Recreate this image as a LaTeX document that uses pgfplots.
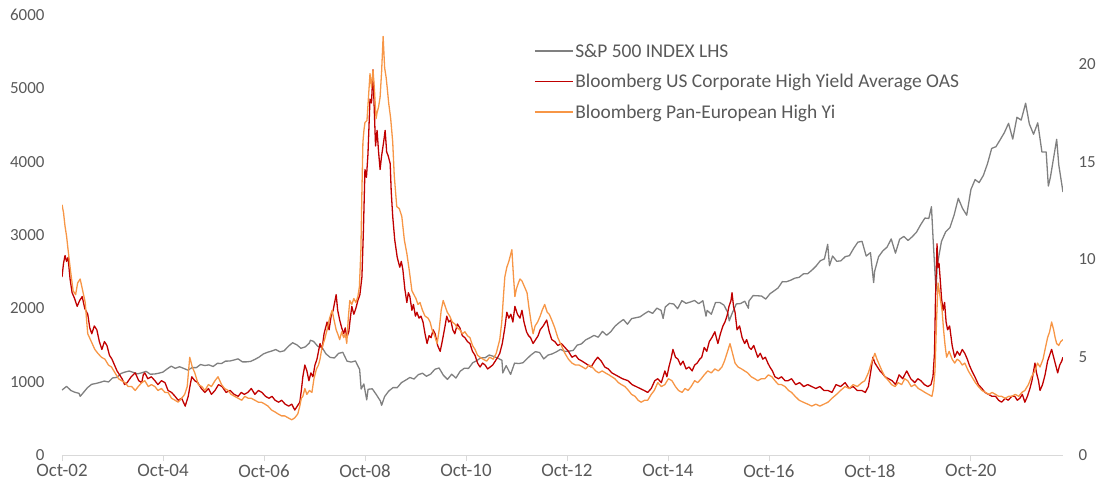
\documentclass[border=0pt]{standalone}
\usepackage{pgfplots}
\pgfplotsset{compat=1.18}
\usepackage{pgfplotstable}
\usepackage{fontspec}
\setmainfont{Carlito}

\definecolor{spxgrey}{HTML}{808080}
\definecolor{hyred}{HTML}{C00000}
\definecolor{euorange}{HTML}{F79646}
\definecolor{txt}{HTML}{595959}
\definecolor{axisgrey}{HTML}{D9D9D9}

% S&P 500 index level (left axis), month-ends plus main turning points
\pgfplotstableread{
date value
2002.750 886
2002.842 936
2002.925 880
2003.003 856
2003.087 841
2003.110 800
2003.170 848
2003.253 917
2003.337 964
2003.420 975
2003.503 990
2003.587 1008
2003.670 996
2003.753 1051
2003.837 1058
2003.920 1112
2003.998 1131
2004.082 1145
2004.165 1126
2004.248 1107
2004.332 1121
2004.415 1141
2004.498 1102
2004.582 1104
2004.665 1115
2004.748 1130
2004.832 1174
2004.915 1212
2004.993 1181
2005.077 1204
2005.160 1181
2005.243 1157
2005.327 1192
2005.410 1191
2005.493 1234
2005.577 1220
2005.660 1229
2005.743 1207
2005.827 1250
2005.910 1248
2005.988 1280
2006.072 1281
2006.155 1295
2006.238 1311
2006.322 1270
2006.405 1270
2006.488 1277
2006.572 1304
2006.655 1336
2006.738 1378
2006.822 1401
2006.905 1418
2006.983 1438
2007.067 1407
2007.150 1421
2007.233 1482
2007.317 1531
2007.400 1503
2007.483 1455
2007.567 1474
2007.650 1527
2007.670 1565
2007.733 1549
2007.817 1481
2007.900 1468
2007.978 1379
2008.062 1331
2008.145 1323
2008.228 1386
2008.312 1400
2008.395 1280
2008.478 1267
2008.562 1283
2008.645 1166
2008.675 899
2008.728 969
2008.785 752
2008.812 896
2008.895 903
2008.973 826
2009.057 735
2009.080 677
2009.140 798
2009.223 873
2009.307 919
2009.390 919
2009.473 987
2009.557 1021
2009.640 1057
2009.723 1036
2009.807 1096
2009.890 1115
2009.968 1074
2010.052 1104
2010.135 1169
2010.218 1187
2010.302 1089
2010.385 1031
2010.468 1102
2010.552 1049
2010.635 1141
2010.718 1183
2010.802 1181
2010.885 1258
2010.963 1286
2011.047 1327
2011.130 1326
2011.213 1364
2011.297 1345
2011.380 1321
2011.463 1292
2011.480 1119
2011.547 1219
2011.635 1099
2011.713 1253
2011.797 1247
2011.880 1258
2011.958 1312
2012.042 1366
2012.125 1409
2012.208 1398
2012.292 1310
2012.375 1362
2012.458 1379
2012.542 1407
2012.625 1441
2012.708 1412
2012.792 1416
2012.875 1426
2012.953 1498
2013.037 1515
2013.120 1569
2013.203 1598
2013.287 1631
2013.370 1606
2013.453 1686
2013.537 1633
2013.620 1682
2013.703 1757
2013.787 1806
2013.870 1848
2013.948 1783
2014.032 1860
2014.115 1872
2014.198 1884
2014.282 1924
2014.365 1960
2014.448 1931
2014.532 2003
2014.615 1972
2014.655 1862
2014.698 2018
2014.782 2068
2014.865 2059
2014.943 1995
2015.027 2105
2015.110 2068
2015.193 2086
2015.277 2107
2015.360 2063
2015.443 2104
2015.505 1893
2015.527 1972
2015.610 1920
2015.693 2079
2015.777 2080
2015.860 2044
2015.938 1940
2015.965 1829
2016.022 1932
2016.105 2060
2016.188 2065
2016.272 2097
2016.345 2001
2016.355 2099
2016.438 2174
2016.522 2171
2016.605 2168
2016.688 2126
2016.772 2199
2016.855 2239
2016.933 2279
2017.017 2364
2017.100 2363
2017.183 2384
2017.267 2412
2017.350 2423
2017.433 2470
2017.517 2472
2017.600 2519
2017.683 2575
2017.767 2648
2017.850 2674
2017.915 2873
2017.950 2581
2018.012 2714
2018.095 2641
2018.178 2648
2018.262 2705
2018.345 2718
2018.428 2816
2018.512 2902
2018.595 2914
2018.678 2712
2018.762 2760
2018.825 2351
2018.845 2507
2018.923 2704
2019.007 2784
2019.090 2834
2019.173 2946
2019.257 2752
2019.340 2942
2019.423 2980
2019.507 2926
2019.590 2977
2019.673 3038
2019.757 3141
2019.840 3231
2019.918 3226
2019.970 3386
2020.002 2954
2020.060 2237
2020.085 2585
2020.168 2912
2020.252 3044
2020.335 3100
2020.418 3271
2020.502 3500
2020.585 3363
2020.668 3270
2020.752 3622
2020.835 3756
2020.913 3714
2020.997 3811
2021.080 3973
2021.163 4181
2021.247 4204
2021.330 4298
2021.413 4395
2021.497 4523
2021.580 4308
2021.663 4605
2021.747 4567
2021.835 4797
2021.908 4516
2021.992 4374
2022.075 4530
2022.158 4132
2022.242 4132
2022.285 3667
2022.325 3785
2022.408 4130
2022.450 4305
2022.492 3955
2022.575 3586
}\spx

% US HY OAS (right axis)
\pgfplotstableread{
date value
2002.75 9.1
2002.78 9.8
2002.81 10.2
2002.84 9.9
2002.87 10.1
2002.91 9.0
2002.95 8.3
2003.00 8.0
2003.05 7.6
2003.10 7.9
2003.15 8.1
2003.20 7.5
2003.26 7.2
2003.30 6.5
2003.34 6.2
2003.39 6.6
2003.44 6.4
2003.49 5.8
2003.54 5.4
2003.59 5.8
2003.64 5.6
2003.69 5.1
2003.74 4.9
2003.79 4.6
2003.84 4.3
2003.89 4.1
2003.94 3.9
2003.99 3.6
2004.04 3.7
2004.12 4.0
2004.20 4.2
2004.27 3.8
2004.33 3.7
2004.36 4.1
2004.39 4.2
2004.45 3.9
2004.52 4.0
2004.59 3.8
2004.65 3.6
2004.72 3.8
2004.79 3.7
2004.85 3.3
2004.92 3.2
2004.99 3.0
2005.05 2.8
2005.12 2.9
2005.19 2.5
2005.25 3.0
2005.29 3.6
2005.32 4.0
2005.38 3.8
2005.44 3.7
2005.51 3.4
2005.58 3.2
2005.65 3.4
2005.71 3.1
2005.78 3.3
2005.85 3.6
2005.92 3.5
2006.00 3.2
2006.08 3.3
2006.16 3.1
2006.24 3.0
2006.30 3.2
2006.36 3.1
2006.43 3.2
2006.50 3.4
2006.57 3.1
2006.64 3.3
2006.71 3.2
2006.78 3.0
2006.85 2.9
2006.91 3.0
2006.97 2.8
2007.04 2.7
2007.10 2.8
2007.17 2.6
2007.24 2.5
2007.30 2.6
2007.36 2.3
2007.41 2.5
2007.46 2.7
2007.49 3.3
2007.52 4.0
2007.56 4.6
2007.60 4.3
2007.64 3.8
2007.68 4.2
2007.72 4.0
2007.76 4.6
2007.80 4.9
2007.86 5.7
2007.90 5.4
2007.94 6.2
2008.00 6.8
2008.04 6.4
2008.08 7.1
2008.12 7.4
2008.15 7.8
2008.18 8.2
2008.21 7.4
2008.25 6.9
2008.29 6.5
2008.33 6.2
2008.36 6.5
2008.39 6.0
2008.43 6.3
2008.46 7.0
2008.49 7.6
2008.53 7.2
2008.57 7.5
2008.61 7.9
2008.65 8.2
2008.69 9.1
2008.72 11.5
2008.75 14.6
2008.78 14.2
2008.81 15.4
2008.83 16.8
2008.85 18.2
2008.88 18.0
2008.91 19.7
2008.93 18.0
2008.96 15.8
2008.99 16.6
2009.02 15.5
2009.05 14.6
2009.08 15.3
2009.12 16.0
2009.15 16.6
2009.18 15.5
2009.21 15.3
2009.25 14.9
2009.27 13.5
2009.30 12.2
2009.34 11.0
2009.39 10.1
2009.44 9.6
2009.47 9.9
2009.50 9.5
2009.54 8.5
2009.58 7.8
2009.61 8.3
2009.64 8.1
2009.68 7.4
2009.71 7.7
2009.75 7.1
2009.78 7.3
2009.82 7.0
2009.86 7.1
2009.90 6.8
2009.94 6.2
2009.98 5.7
2010.02 6.1
2010.06 6.0
2010.10 6.4
2010.14 6.2
2010.19 5.6
2010.24 5.3
2010.28 5.8
2010.33 6.5
2010.37 7.1
2010.41 6.8
2010.45 6.9
2010.49 6.4
2010.53 6.2
2010.58 6.7
2010.63 6.5
2010.68 6.1
2010.73 6.0
2010.78 5.8
2010.83 5.7
2010.88 5.3
2010.93 5.1
2010.98 4.7
2011.03 4.5
2011.08 4.7
2011.13 4.6
2011.18 4.4
2011.23 4.5
2011.28 4.6
2011.33 4.8
2011.38 5.0
2011.42 5.2
2011.47 5.7
2011.52 6.5
2011.56 7.3
2011.60 7.0
2011.64 7.2
2011.68 6.8
2011.72 7.6
2011.77 7.2
2011.82 7.0
2011.86 7.4
2011.90 6.8
2011.95 6.3
2011.99 6.1
2012.03 6.0
2012.08 5.7
2012.13 5.9
2012.18 6.1
2012.22 6.4
2012.28 6.6
2012.35 6.9
2012.40 6.3
2012.45 5.9
2012.51 5.8
2012.57 5.6
2012.64 5.7
2012.71 5.5
2012.78 5.3
2012.85 5.0
2012.92 5.1
2012.98 4.9
2013.05 4.8
2013.11 4.7
2013.17 4.6
2013.23 4.5
2013.30 4.8
2013.36 5.0
2013.43 4.8
2013.50 4.5
2013.57 4.4
2013.64 4.2
2013.71 4.1
2013.78 4.0
2013.85 3.9
2013.96 3.8
2014.04 3.6
2014.12 3.5
2014.20 3.4
2014.28 3.3
2014.35 3.2
2014.42 3.4
2014.49 3.8
2014.55 3.9
2014.62 3.7
2014.69 4.3
2014.73 4.0
2014.77 4.5
2014.81 4.9
2014.85 5.4
2014.90 5.0
2014.95 4.9
2015.00 4.6
2015.05 4.8
2015.11 4.4
2015.17 4.5
2015.23 4.3
2015.28 4.6
2015.33 4.7
2015.38 4.9
2015.42 5.0
2015.47 5.5
2015.52 5.3
2015.57 5.8
2015.62 6.0
2015.68 6.3
2015.74 5.7
2015.79 6.2
2015.84 6.6
2015.88 6.8
2015.92 7.1
2015.96 7.6
2016.00 7.9
2016.02 8.3
2016.05 7.6
2016.08 7.3
2016.12 6.4
2016.17 6.6
2016.22 6.0
2016.27 5.7
2016.31 5.9
2016.36 5.5
2016.40 5.4
2016.45 5.6
2016.49 5.3
2016.53 5.0
2016.58 5.2
2016.63 4.9
2016.68 5.0
2016.73 4.7
2016.77 4.5
2016.82 4.3
2016.87 4.0
2016.94 3.9
2017.00 4.0
2017.07 3.8
2017.13 3.8
2017.20 3.9
2017.28 3.6
2017.36 3.7
2017.44 3.5
2017.52 3.6
2017.60 3.5
2017.68 3.4
2017.76 3.5
2017.84 3.3
2017.92 3.3
2018.00 3.2
2018.08 3.6
2018.17 3.5
2018.26 3.7
2018.34 3.4
2018.42 3.5
2018.50 3.3
2018.59 3.3
2018.66 3.2
2018.72 3.5
2018.77 4.3
2018.81 5.0
2018.85 4.7
2018.90 4.5
2018.95 4.3
2018.99 4.2
2019.05 4.0
2019.12 3.9
2019.19 3.8
2019.26 3.6
2019.33 4.1
2019.40 3.9
2019.48 4.3
2019.56 3.9
2019.64 3.7
2019.70 3.9
2019.76 3.8
2019.83 3.6
2019.90 3.5
2019.96 3.6
2020.00 4.0
2020.03 5.2
2020.05 8.0
2020.08 10.8
2020.10 9.6
2020.12 9.8
2020.14 9.1
2020.17 8.0
2020.20 7.4
2020.23 7.8
2020.26 6.8
2020.29 6.4
2020.33 6.6
2020.38 5.6
2020.43 5.0
2020.48 5.3
2020.53 5.1
2020.58 5.4
2020.63 5.2
2020.68 4.9
2020.72 4.6
2020.77 4.3
2020.83 4.0
2020.90 3.6
2020.97 3.4
2021.03 3.2
2021.10 3.1
2021.17 3.0
2021.24 3.0
2021.30 2.8
2021.36 2.7
2021.43 2.9
2021.49 2.8
2021.56 3.0
2021.62 3.0
2021.67 2.8
2021.72 2.9
2021.77 3.1
2021.82 2.7
2021.87 3.0
2021.92 3.4
2021.96 3.8
2022.02 4.7
2022.05 4.2
2022.09 3.8
2022.12 3.3
2022.17 3.6
2022.22 4.1
2022.27 4.8
2022.31 5.1
2022.35 5.4
2022.39 5.0
2022.43 4.6
2022.47 4.2
2022.51 4.6
2022.55 4.8
2022.575 5.0
}\ushy

% Pan-European HY (right axis)
\pgfplotstableread{
date value
2002.75 12.8
2002.78 12.4
2002.81 11.7
2002.84 11.2
2002.87 10.5
2002.92 9.4
2002.97 8.4
2003.02 8.2
2003.06 8.8
2003.11 9.0
2003.16 8.4
2003.21 7.8
2003.24 6.8
2003.26 6.2
2003.33 5.8
2003.40 5.4
2003.46 5.2
2003.53 5.0
2003.60 4.9
2003.67 4.6
2003.73 4.5
2003.80 4.2
2003.87 3.9
2003.93 3.8
2004.00 3.7
2004.06 3.5
2004.13 3.5
2004.20 3.3
2004.26 3.5
2004.33 3.7
2004.39 3.8
2004.46 3.5
2004.52 3.6
2004.59 3.5
2004.65 3.3
2004.72 3.4
2004.79 3.2
2004.85 3.2
2004.92 2.9
2004.99 2.8
2005.05 2.7
2005.12 2.9
2005.18 3.1
2005.23 3.5
2005.26 4.4
2005.28 5.0
2005.33 4.5
2005.38 4.2
2005.45 3.6
2005.52 3.5
2005.58 3.3
2005.65 3.6
2005.71 3.5
2005.78 3.8
2005.84 4.0
2005.91 3.6
2005.97 3.4
2006.04 3.3
2006.10 3.1
2006.17 3.0
2006.24 2.9
2006.31 2.8
2006.37 3.0
2006.44 2.9
2006.50 2.9
2006.57 2.8
2006.64 2.7
2006.70 2.7
2006.77 2.6
2006.83 2.5
2006.90 2.3
2006.97 2.2
2007.03 2.1
2007.10 2.0
2007.16 2.0
2007.23 1.9
2007.30 1.8
2007.36 1.9
2007.42 2.1
2007.46 2.5
2007.49 2.9
2007.52 3.0
2007.56 3.4
2007.60 3.1
2007.65 3.3
2007.70 3.2
2007.74 3.9
2007.79 4.4
2007.83 4.6
2007.86 4.9
2007.90 5.5
2007.95 5.9
2008.00 6.4
2008.05 7.0
2008.10 7.4
2008.13 7.0
2008.18 6.4
2008.21 6.2
2008.25 5.9
2008.29 6.3
2008.33 6.0
2008.36 6.2
2008.39 5.7
2008.42 7.0
2008.45 7.9
2008.49 7.7
2008.53 8.0
2008.57 7.8
2008.61 8.1
2008.64 8.6
2008.67 10.5
2008.69 13.5
2008.71 16.0
2008.73 16.6
2008.75 17.0
2008.79 17.1
2008.82 18.3
2008.85 19.5
2008.88 18.8
2008.91 19.7
2008.94 18.6
2008.97 17.2
2008.99 17.5
2009.02 17.8
2009.05 18.3
2009.08 19.6
2009.11 21.4
2009.14 19.8
2009.17 19.3
2009.19 18.8
2009.22 18.0
2009.26 17.2
2009.30 16.0
2009.33 14.3
2009.38 12.7
2009.43 12.6
2009.48 12.2
2009.53 11.0
2009.58 10.3
2009.63 9.4
2009.68 8.4
2009.72 8.2
2009.76 8.0
2009.80 7.7
2009.84 7.8
2009.89 7.4
2009.94 7.1
2010.00 7.0
2010.04 6.8
2010.08 6.4
2010.13 6.1
2010.18 5.7
2010.22 6.4
2010.26 7.4
2010.30 7.9
2010.34 7.6
2010.38 7.3
2010.43 7.1
2010.48 6.8
2010.53 6.7
2010.58 6.5
2010.63 6.4
2010.68 6.2
2010.73 6.3
2010.78 6.1
2010.83 6.0
2010.88 5.6
2010.93 5.4
2010.98 5.1
2011.03 5.0
2011.09 4.9
2011.16 4.8
2011.22 5.0
2011.29 4.9
2011.35 5.2
2011.42 5.9
2011.46 6.8
2011.49 8.0
2011.52 9.1
2011.56 9.6
2011.60 9.9
2011.63 10.2
2011.66 10.5
2011.69 9.2
2011.72 8.1
2011.75 8.5
2011.79 8.8
2011.82 9.0
2011.86 8.9
2011.91 8.6
2011.96 8.3
2012.00 7.5
2012.04 6.8
2012.08 6.2
2012.12 6.6
2012.17 6.8
2012.22 7.1
2012.26 7.4
2012.31 7.7
2012.36 7.3
2012.40 7.2
2012.45 6.9
2012.51 6.5
2012.57 6.0
2012.64 5.6
2012.71 5.2
2012.78 4.9
2012.85 4.7
2012.92 4.6
2012.99 4.6
2013.06 4.5
2013.12 4.4
2013.19 4.6
2013.25 4.5
2013.32 4.3
2013.38 4.2
2013.45 4.3
2013.51 4.2
2013.58 4.1
2013.64 4.0
2013.70 3.9
2013.77 3.7
2013.83 3.6
2013.90 3.5
2013.97 3.3
2014.03 3.1
2014.10 3.0
2014.16 2.8
2014.22 2.7
2014.29 2.8
2014.35 2.8
2014.42 3.1
2014.48 3.3
2014.55 3.7
2014.62 3.5
2014.69 3.6
2014.76 3.9
2014.83 3.8
2014.90 3.5
2014.96 3.3
2015.03 3.2
2015.09 3.4
2015.15 3.3
2015.21 3.5
2015.28 3.8
2015.34 3.7
2015.41 3.9
2015.47 4.1
2015.54 4.3
2015.61 4.2
2015.68 4.4
2015.75 4.3
2015.82 4.5
2015.87 4.8
2015.92 5.2
2015.98 5.7
2016.03 5.2
2016.08 4.7
2016.14 4.5
2016.21 4.4
2016.27 4.3
2016.33 4.2
2016.40 4.0
2016.47 3.9
2016.53 3.8
2016.60 3.9
2016.67 3.9
2016.74 4.1
2016.81 4.0
2016.87 3.8
2016.94 3.6
2017.00 3.6
2017.07 3.5
2017.14 3.3
2017.20 3.2
2017.27 3.0
2017.35 2.8
2017.43 2.7
2017.52 2.6
2017.60 2.5
2017.68 2.6
2017.76 2.5
2017.84 2.6
2017.92 2.7
2018.00 2.9
2018.09 3.1
2018.17 3.3
2018.26 3.5
2018.34 3.4
2018.42 3.6
2018.50 3.5
2018.59 3.7
2018.65 3.8
2018.72 4.2
2018.78 4.7
2018.85 5.2
2018.89 4.9
2018.94 4.6
2018.99 4.3
2019.05 4.0
2019.12 3.8
2019.18 3.6
2019.25 3.5
2019.31 3.7
2019.38 3.6
2019.44 3.9
2019.50 3.8
2019.57 3.5
2019.64 3.6
2019.71 3.4
2019.78 3.3
2019.84 3.2
2019.91 3.1
2019.98 3.0
2020.01 3.4
2020.04 4.3
2020.07 6.8
2020.10 8.8
2020.13 8.3
2020.15 7.9
2020.18 7.4
2020.21 6.4
2020.24 5.6
2020.27 5.0
2020.32 5.3
2020.38 4.9
2020.43 4.7
2020.48 4.9
2020.53 4.8
2020.58 4.6
2020.63 4.7
2020.70 4.3
2020.77 4.0
2020.84 3.7
2020.90 3.5
2020.97 3.3
2021.04 3.2
2021.11 3.1
2021.17 3.2
2021.24 3.1
2021.30 3.0
2021.36 3.0
2021.43 2.9
2021.50 3.0
2021.56 3.0
2021.63 3.1
2021.70 3.0
2021.76 3.2
2021.82 3.3
2021.89 3.6
2021.95 4.0
2022.02 4.3
2022.07 4.7
2022.12 4.5
2022.18 4.9
2022.22 5.4
2022.27 6.0
2022.31 6.3
2022.35 6.8
2022.39 6.4
2022.42 6.0
2022.45 5.7
2022.49 5.6
2022.53 5.8
2022.575 5.9
}\euhy

\pgfplotsset{
  common/.style={
    scale only axis, width=1001bp, height=440bp,
    xmin=2002.75, xmax=2022.575,
    tick label style={font=\fontsize{17}{20}\selectfont, text=txt},
    /pgf/number format/assume math mode=true,
    /pgf/number format/1000 sep={},
    every axis plot/.append style={line width=1.3bp, line join=round, mark=none},
  },
}

\begin{document}
\begin{tikzpicture}
\begin{axis}[
  common,
  ymin=0, ymax=6000,
  ytick={0,1000,...,6000},
  axis x line*=bottom, axis y line*=left,
  x axis line style={draw=axisgrey, line width=0.8bp, -},
  y axis line style={draw=none},
  ytick style={draw=none},
  xtick style={draw=axisgrey, line width=0.8bp},
  tick align=outside, major tick length=6bp,
  xtick={2002.75,2004.75,...,2020.75},
  xticklabels={Oct-02,Oct-04,Oct-06,Oct-08,Oct-10,Oct-12,Oct-14,Oct-16,Oct-18,Oct-20},
  xticklabel style={font=\fontsize{19}{22}\selectfont},
  yticklabel style={xshift=-8bp},
]
\addplot[color=spxgrey] table[x=date, y=value] {\spx};
\end{axis}
\begin{axis}[
  common,
  ymin=0, ymax=22.5,
  ytick={0,5,...,20},
  axis x line=none, axis y line*=right,
  y axis line style={draw=none},
  ytick style={draw=none},
  yticklabel style={xshift=12bp},
  legend style={at={(0.4685,0.943)}, anchor=north west, draw=none, fill=none,
    font=\fontsize{19.5}{22}\selectfont, text=txt, row sep=12.5bp,
    nodes={inner sep=1.5bp}},
  legend cell align=left,
  legend image code/.code={\draw[#1, line width=1.6bp] (0bp,0bp) -- (38bp,0bp);},
]
\coordinate (O) at (rel axis cs:0,0);
\addlegendimage{color=spxgrey}
\addplot[color=hyred] table[x=date, y=value] {\ushy};
\addplot[color=euorange] table[x=date, y=value] {\euhy};
\legend{S\&P 500 INDEX LHS, Bloomberg US Corporate High Yield Average OAS, Bloomberg Pan-European High Yi}
\end{axis}
\pgfresetboundingbox
\path (O) ++(-62bp,-33bp) rectangle ++(1102bp,488bp);
\end{tikzpicture}
\end{document}
